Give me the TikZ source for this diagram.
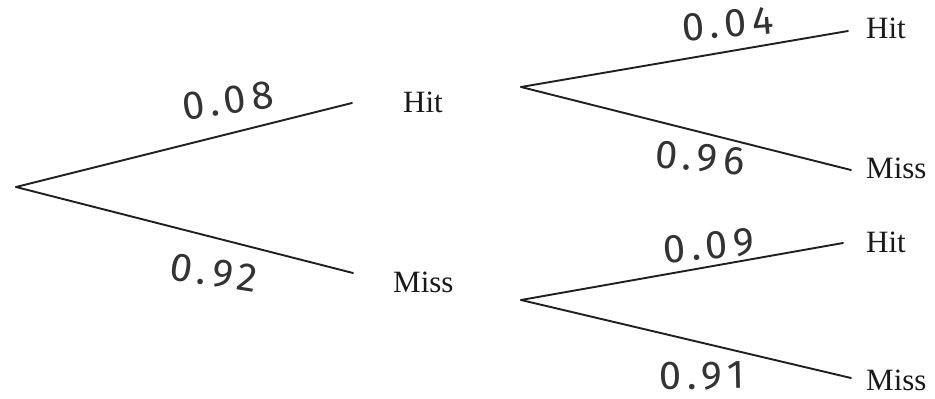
\documentclass[tikz,border=0pt]{standalone}
\usepackage{fontspec}
\setmainfont{Liberation Serif}
\newfontfamily\handfont[LetterSpace=14]{Fira Sans}
\begin{document}
\begin{tikzpicture}[x=1pt,y=-1pt,
  branch/.style={line width=1.9pt, line cap=round, draw=black!88},
  outcome/.style={font=\fontsize{31}{34}\selectfont, inner sep=0pt, anchor=west, text=black!90},
  prob/.style={font=\handfont\fontsize{40}{42}\selectfont, inner sep=0pt, text=black!80}]
\useasboundingbox (0,0) rectangle (935,399);
% tree points
\coordinate (root) at (16,187);
\coordinate (hitA) at (352,103);
\coordinate (missA) at (353,273);
\coordinate (hitB0) at (521,87);
\coordinate (hitB1) at (848,31);
\coordinate (missB1) at (851,170);
\coordinate (missC0) at (521,300);
\coordinate (hitC1) at (843,243);
\coordinate (missC1) at (851,378);
% branches
\draw[branch] (root) -- (hitA);
\draw[branch] (root) -- (missA);
\draw[branch] (hitB0) -- (hitB1);
\draw[branch] (hitB0) -- (missB1);
\draw[branch] (missC0) -- (hitC1);
\draw[branch] (missC0) -- (missC1);
% outcomes
\node[outcome] (tHitA) at (403,102) {Hit};
\node[outcome] (tMissA) at (393,282) {Miss};
\node[outcome] (tHitB) at (866,28) {Hit};
\node[outcome] (tMissB) at (866,168) {Miss};
\node[outcome] (tHitC) at (866,242) {Hit};
\node[outcome] (tMissC) at (866,380) {Miss};
% probabilities
\node[prob, rotate=8] (pHitA) at (228,101) {0.08};
\node[prob, rotate=-9] (pMissA) at (214,273) {0.92};
\node[prob, rotate=5] (pHitB) at (728,24) {0.04};
\node[prob, rotate=-5] (pMissB) at (700,158) {0.96};
\node[prob, rotate=5] (pHitC) at (709,246) {0.09};
\node[prob, rotate=1] (pMissC) at (702,376) {0.91};
\end{tikzpicture}
\end{document}
